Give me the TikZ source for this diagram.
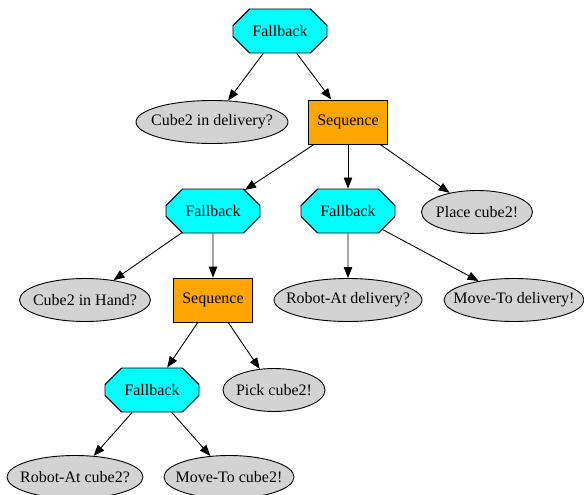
\documentclass[tikz,border=0pt]{standalone}
\usepackage{fontspec}
\setmainfont{Liberation Serif}
\usetikzlibrary{shapes.misc,shapes.geometric,arrows.meta}
\definecolor{gvcyan}{RGB}{0,255,255}
\definecolor{gvorange}{RGB}{255,165,0}
\definecolor{gvgray}{RGB}{211,211,211}
\tikzset{
  base/.style={draw=black, line width=0.9pt, inner sep=0pt, font=\fontsize{16}{18}\selectfont},
  fb/.style={base, chamfered rectangle, chamfered rectangle xsep=26pt, chamfered rectangle ysep=11pt,
     fill=gvcyan, minimum width=94pt, minimum height=44pt},
  sq/.style={base, rectangle, fill=gvorange, minimum width=79pt, minimum height=44pt},
  cond/.style={base, ellipse, fill=gvgray, minimum height=43pt,
     execute at begin node={\hbox to 0pt\bgroup\hss}, execute at end node={\hss\egroup}},
  edge/.style={draw=black, line width=0.9pt, -{Triangle[length=11pt,width=8.5pt]}}
}
\begin{document}
\begin{tikzpicture}[x=1pt,y=-1pt]
\useasboundingbox (0,0) rectangle (584,495);
\node[fb] (f0) at (280,31) {Fallback};
\node[cond, minimum width=152pt] (c1) at (212,122) {Cube2 in delivery?};
\node[sq] (s1) at (348,122) {Sequence};
\node[fb] (f1) at (213,211) {Fallback};
\node[fb] (f2) at (348,211) {Fallback};
\node[cond, minimum width=111pt] (a1) at (477,212) {Place cube2!};
\node[cond, minimum width=131pt] (c2) at (85,300) {Cube2 in Hand?};
\node[sq] (s2) at (213,300) {Sequence};
\node[cond, minimum width=148pt] (c3) at (348,300) {Robot-At delivery?};
\node[cond, minimum width=140pt] (a2) at (514,300) {Move-To delivery!};
\node[fb] (f3) at (152,390) {Fallback};
\node[cond, minimum width=102pt] (a3) at (274,390) {Pick cube2!};
\node[cond, minimum width=136pt] (c4) at (75,477) {Robot-At cube2?};
\node[cond, minimum width=130pt] (a4) at (229,477) {Move-To cube2!};
\draw[edge] (f0) -- (c1);
\draw[edge] (f0) -- (s1);
\draw[edge] (s1) -- (f1);
\draw[edge] (s1) -- (f2);
\draw[edge] (s1) -- (a1);
\draw[edge] (f1) -- (c2);
\draw[edge] (f1) -- (s2);
\draw[edge] (f2) -- (c3);
\draw[edge] (f2) -- (a2);
\draw[edge] (s2) -- (f3);
\draw[edge] (s2) -- (a3);
\draw[edge] (f3) -- (c4);
\draw[edge] (f3) -- (a4);
\end{tikzpicture}
\end{document}
